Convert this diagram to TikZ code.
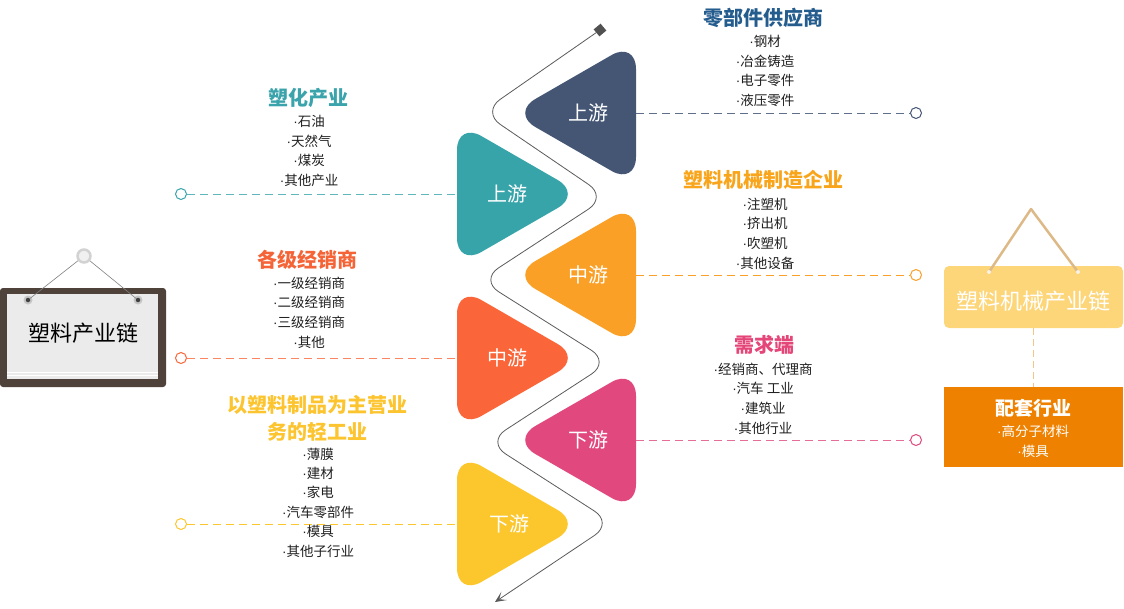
\documentclass[tikz,border=0pt]{standalone}
\usepackage{fontspec}
\setmainfont{Noto Sans CJK SC}
\newfontfamily\dotfont{Liberation Sans}
\newcommand\dt{{\dotfont ·}}
\usetikzlibrary{arrows.meta}
\definecolor{cNavy}{HTML}{445674}
\definecolor{cTeal}{HTML}{37A4AA}
\definecolor{cOrange}{HTML}{FAA026}
\definecolor{cRed}{HTML}{FA6539}
\definecolor{cPink}{HTML}{E0487E}
\definecolor{cYellow}{HTML}{FCC72C}
\definecolor{tNavy}{HTML}{245C8E}
\definecolor{tTeal}{HTML}{3AA3AB}
\definecolor{tOrange}{HTML}{F8A51B}
\definecolor{tRed}{HTML}{F46437}
\definecolor{tPink}{HTML}{E54679}
\definecolor{tYellow}{HTML}{FCC42F}
\definecolor{cBoxY}{HTML}{FED67A}
\definecolor{cBoxO}{HTML}{EE8200}
\definecolor{cHang}{HTML}{DDB987}
\definecolor{cDashV}{HTML}{F3C58A}
\definecolor{cBrd}{HTML}{4E423B}
\definecolor{cPan}{HTML}{EBEBEB}
\definecolor{cWave}{HTML}{5A5A5A}
\tikzset{
  itm/.style={font=\fontsize{13.5}{19.7}\selectfont, text=black!88, align=center, inner sep=0pt},
  ttl/.style={font=\fontsize{20}{27}\selectfont\bfseries, align=center, inner sep=0pt},
  dline/.style={dash pattern=on 8pt off 5pt, line width=1pt},
  endc/.style={circle, draw, fill=white, minimum size=11pt, inner sep=0pt, line width=1pt},
  trishape/.style={rounded corners=28pt},
  tlab/.style={text=white, font=\fontsize{20}{24}\selectfont, inner sep=0pt},
  wave/.style={draw=cWave, line width=0.8pt, rounded corners=22pt},
}
% right-pointing triangle: left x, centre y, colour
\newcommand\myTriR[3]{\fill[#3, trishape] (#1,#2-72) -- (#1+125,#2) -- (#1,#2+72) -- cycle;}
% left-pointing triangle: right x, centre y, colour
\newcommand\myTriL[3]{\fill[#3, trishape] (#1,#2-72) -- (#1,#2+72) -- (#1-125,#2) -- cycle;}
\begin{document}
\begin{tikzpicture}[x=1pt,y=-1pt]
\useasboundingbox (0,0) rectangle (1124,608);

% ---------- triangles ----------
\myTriL{636}{113}{cNavy}
\myTriR{457}{194}{cTeal}
\myTriL{636}{275}{cOrange}
\myTriR{457}{358}{cRed}
\myTriL{636}{440}{cPink}
\myTriR{457}{524}{cYellow}
\node[tlab] (u1) at (588,113) {上游};
\node[tlab] (u2) at (507,194) {上游};
\node[tlab] (m1) at (588,275) {中游};
\node[tlab] (m2) at (507,358) {中游};
\node[tlab] (d1) at (588,440) {下游};
\node[tlab] (d2) at (509,524) {下游};
\coordinate (e1) at (636,113);
\coordinate (e2) at (457,194);
\coordinate (e3) at (636,275);
\coordinate (e4) at (457,358);
\coordinate (e5) at (636,440);
\coordinate (e6) at (457,524);

% ---------- wavy line ----------
\node[rectangle, fill=cWave!90!black, minimum size=9pt, inner sep=0pt, rotate=40] (wstart) at (600,30) {};
\coordinate (wend) at (495,602);
\draw[wave, -{Stealth[length=11pt,width=10pt,inset=6pt]}] (wstart) -- (482,112) -- (607,197) -- (480,280) -- (610,362) -- (487,442) -- (613,523) -- (wend);

% ---------- dashed connectors ----------
\node[endc, draw=cTeal] (c2) at (181,194) {};
\node[endc, draw=cRed] (c4) at (181,358) {};
\node[endc, draw=cYellow] (c6) at (181,524) {};
\node[endc, draw=cNavy] (c1) at (916,113) {};
\node[endc, draw=cOrange] (c3) at (916,275) {};
\node[endc, draw=cPink] (c5) at (916,440) {};
\draw[dline, cTeal!80] (c2) -- (e2);
\draw[dline, cRed!80] (c4) -- (e4);
\draw[dline, cYellow] (c6) -- (e6);
\draw[dline, cNavy!85] (e1) -- (c1);
\draw[dline, cOrange] (e3) -- (c3);
\draw[dline, cPink!80] (e5) -- (c5);

% ---------- left texts ----------
\node[ttl, text=tTeal] (t2) at (308,98) {塑化产业};
\node[itm] (i2) at (309,151) {\dt 石油\\\dt 天然气\\\dt 煤炭\\\dt 其他产业};
\node[ttl, text=tRed] (t4) at (307,260) {各级经销商};
\node[itm] (i4) at (309,312.5) {\dt 一级经销商\\\dt 二级经销商\\\dt 三级经销商\\\dt 其他};
\node[ttl, text=tYellow] (t6) at (317,418.5) {以塑料制品为主营业\\务的轻工业};
\node[itm, font=\fontsize{13.5}{19.4}\selectfont] (i6) at (318,502.5) {\dt 薄膜\\\dt 建材\\\dt 家电\\\dt 汽车零部件\\\dt 模具\\\dt 其他子行业};

% ---------- right texts ----------
\node[ttl, text=tNavy] (t1) at (763,18) {零部件供应商};
\node[itm] (i1) at (765,71) {\dt 钢材\\\dt 冶金铸造\\\dt 电子零件\\\dt 液压零件};
\node[ttl, text=tOrange] (t3) at (763,180) {塑料机械制造企业};
\node[itm] (i3) at (765,233.5) {\dt 注塑机\\\dt 挤出机\\\dt 吹塑机\\\dt 其他设备};
\node[ttl, text=tPink] (t5) at (764,345) {需求端};
\node[itm] (i5) at (763,398.5) {\dt 经销商、代理商\\\dt 汽车 工业\\\dt 建筑业\\\dt 其他行业};

% ---------- left board ----------
\fill[cBrd, rounded corners=3pt] (0,288) rectangle (166,387);
\fill[cPan] (7,294) rectangle (158,379);
\draw[white, line width=0.8pt] (7,372) -- (158,372);
\draw[white, line width=0.8pt] (7,375.5) -- (158,375.5);
\node[circle, draw=gray!35, line width=2.5pt, fill=gray!12, minimum size=13pt, inner sep=0pt] (ring) at (84,256) {};
\node[circle, fill=gray!45, minimum size=9pt, inner sep=0pt] (pinLh) at (28,300) {};
\node[circle, fill=gray!45, minimum size=9pt, inner sep=0pt] (pinRh) at (138,300) {};
\node[circle, fill=black!75, minimum size=4.5pt, inner sep=0pt] (pinL) at (28,300) {};
\node[circle, fill=black!75, minimum size=4.5pt, inner sep=0pt] (pinR) at (138,300) {};
\draw[gray, line width=0.6pt] (ring) -- (pinL);
\draw[gray, line width=0.6pt] (ring) -- (pinR);
\node[font=\fontsize{22}{26}\selectfont, text=black, inner sep=0pt] (board) at (83,333) {塑料产业链};

% ---------- right boxes ----------
\node[rectangle, rounded corners=5pt, fill=cBoxY, minimum width=179pt, minimum height=62pt, inner sep=0pt] (mbox) at (1033.5,297) {};
\node[text=white, font=\fontsize{22}{26}\selectfont, inner sep=0pt] (mtxt) at (1033.5,301) {塑料机械产业链};
\coordinate (apex) at (1031,209);
\coordinate (hL) at (989,272);
\coordinate (hR) at (1078,272);
\draw[cHang, line width=2.5pt, line join=round] (hL) -- (apex) -- (hR);
\fill[white!80!cHang] (hL) circle (2pt) (hR) circle (2pt);
\node[rectangle, fill=cBoxO, minimum width=179pt, minimum height=80pt, inner sep=0pt] (pbox) at (1033.5,427) {};
\draw[dash pattern=on 7pt off 4pt, line width=1.2pt, cDashV] (mbox.south) -- (pbox.north);
\node[ttl, text=white, font=\fontsize{19}{24}\selectfont\bfseries] (ptitle) at (1033,408) {配套行业};
\node[itm, text=white] (pitems) at (1033,441) {\dt 高分子材料\\\dt 模具};
\end{tikzpicture}
\end{document}
